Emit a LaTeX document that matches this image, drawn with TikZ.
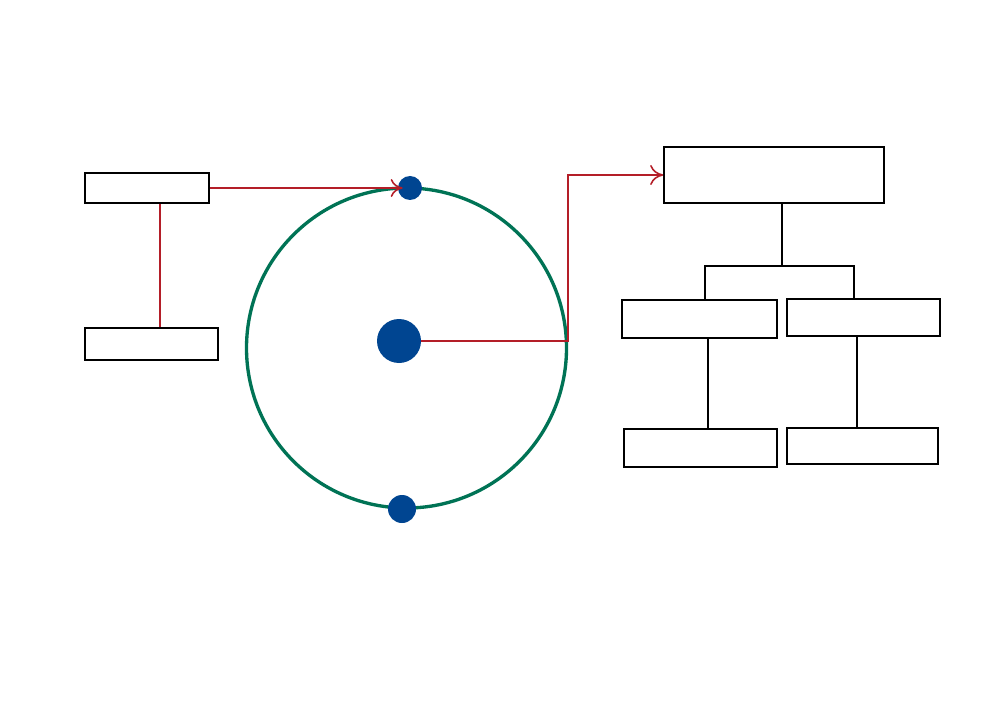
\documentclass[tikz,border=0pt]{standalone}
\usepackage{xcolor}
\usepackage{tikz}
\usetikzlibrary{arrows.meta,positioning}
\definecolor{linkred}{RGB}{180,30,40}
\definecolor{dotblue}{RGB}{0,69,145}
\definecolor{orbitgreen}{RGB}{0,115,85}

\begin{document}
\begin{tikzpicture}[x=0.2mm,y=-0.2mm,
  box/.style={draw,line width=1.3pt,inner sep=0pt},
  dot/.style={circle,fill=dotblue,inner sep=0pt},
  link/.style={linkred,line width=0.9pt},
  tree/.style={black,line width=0.9pt}]
\useasboundingbox (0,0) rectangle (1000,707);
% left pair
\node[box,minimum width=24.8mm,minimum height=6mm] (srcA) at (147,188) {};
\node[box,minimum width=26.6mm,minimum height=6.4mm] (srcB) at (151.5,344) {};
% orbit with its dots
\node[circle,draw=orbitgreen,line width=1.9pt,minimum size=64mm,inner sep=0pt] (orbit) at (406.5,348) {};
\node[dot,minimum size=4.8mm] (sat) at (410,188) {};
\node[dot,minimum size=8.8mm] (core) at (399,341) {};
\node[dot,minimum size=5.6mm] (low) at (402,509) {};
% tree on the right
\node[box,line width=1pt,minimum width=44mm,minimum height=11.2mm] (top) at (774,175) {};
\node[box,line width=1.6pt,minimum width=31mm,minimum height=7.6mm] (midA) at (699.5,319) {};
\node[box,line width=1.6pt,minimum width=30.6mm,minimum height=7.4mm] (midB) at (863.5,317.5) {};
\node[box,line width=1.6pt,minimum width=30.6mm,minimum height=7.6mm] (lowA) at (700.5,448) {};
\node[box,line width=1.6pt,minimum width=30.2mm,minimum height=7.2mm] (lowB) at (862.5,446) {};
\coordinate (fork) at (782,266);
% connectors
\draw[link] ([xshift=2.6mm]srcA.south) -- ([xshift=2.6mm]srcA.south |- srcB.north);
\draw[link,-{To[length=2.4mm,width=3.6mm]}] (srcA.east) -- ([xshift=1mm]sat.west);
\draw[link,-{To[length=2.6mm,width=4mm]}] (core.east) -- (orbit.east |- core.east) |- (top.west);
\draw[tree] (fork |- top.south) -- (fork);
\draw[tree] ([xshift=1.1mm]midA.north) |- (fork) -| ([xshift=-1.9mm]midB.north);
\draw[tree] ([xshift=1.7mm]midA.south) -- ([xshift=1.7mm]midA.south |- lowA.north);
\draw[tree] ([xshift=-1.3mm]midB.south) -- ([xshift=-1.3mm]midB.south |- lowB.north);
\end{tikzpicture}
\end{document}
